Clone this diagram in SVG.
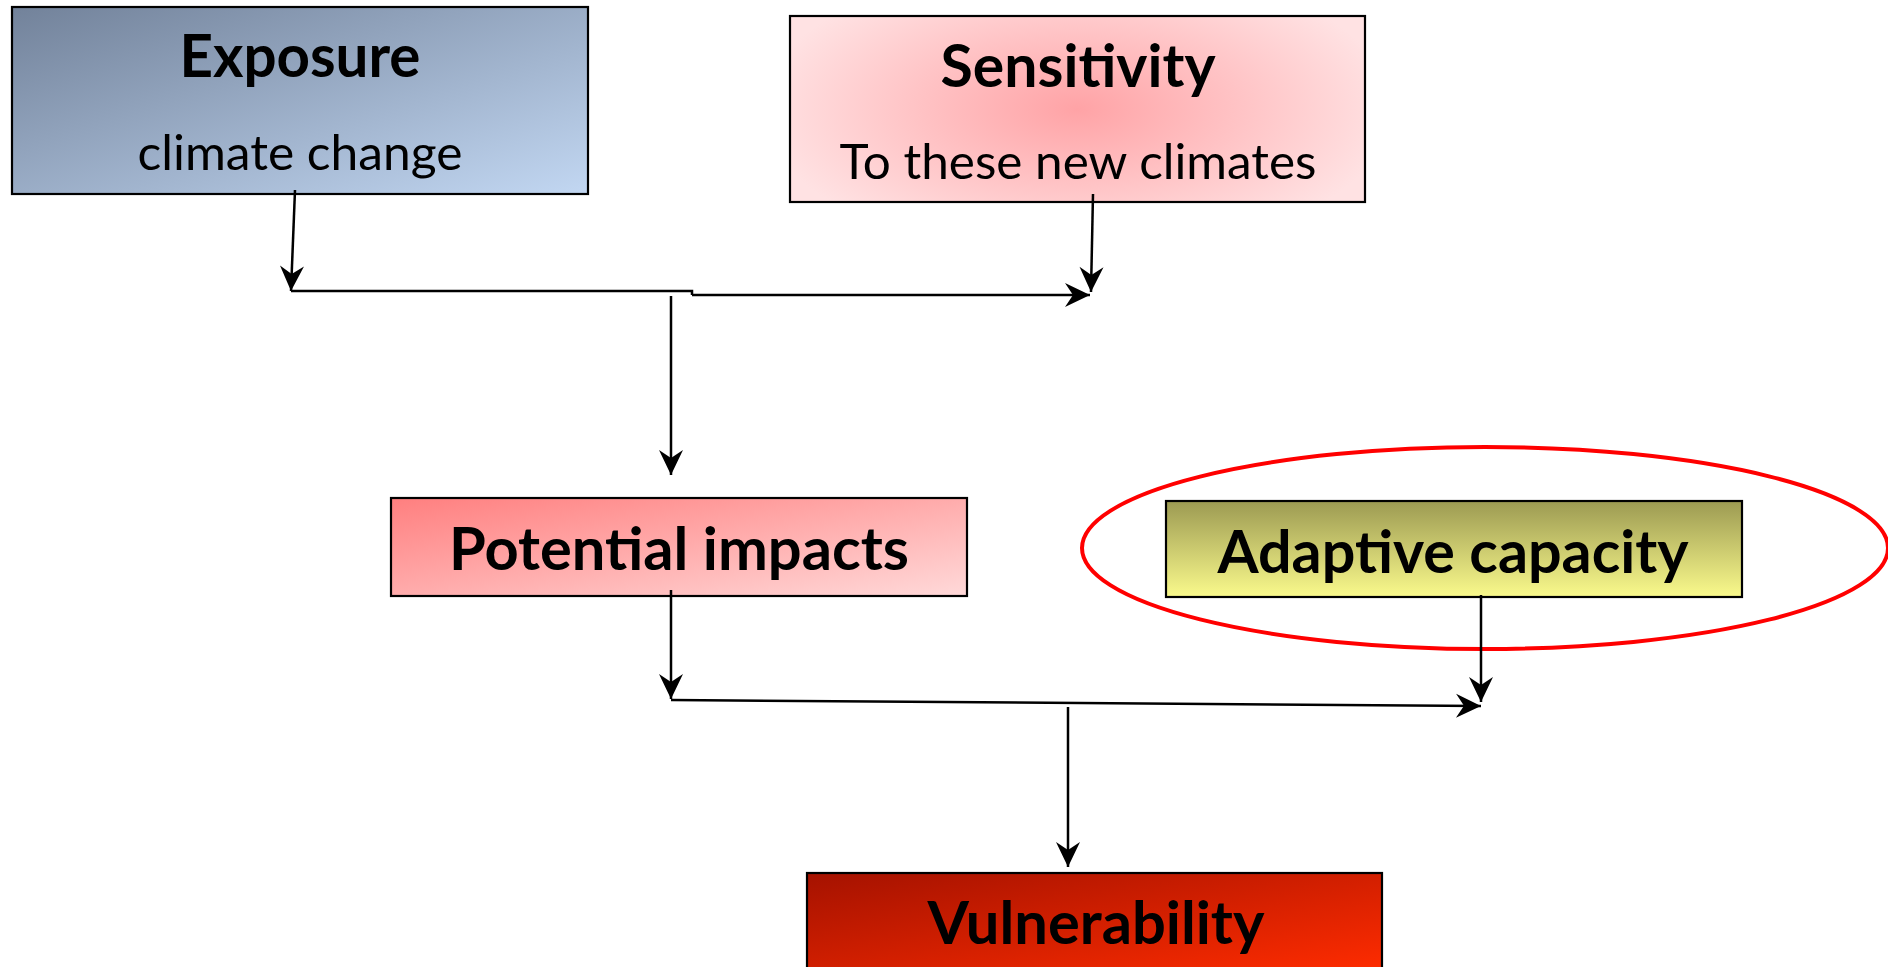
<svg xmlns="http://www.w3.org/2000/svg" width="1888" height="967" viewBox="0 0 1888 967">
<style>
.box{stroke:#000;stroke-width:2.2}
.t{font-family:Lato,"Liberation Sans",sans-serif;font-weight:bold;font-size:60px;fill:#000;text-anchor:middle}
.s{font-family:Lato,"Liberation Sans",sans-serif;font-size:49px;fill:#000;text-anchor:middle}
.c{stroke:#000;stroke-width:2.5;fill:none}
</style>
<defs>
<linearGradient id="gExp" x1="0" y1="0" x2="1" y2="1">
<stop offset="0" stop-color="#72829a"/><stop offset="1" stop-color="#c2d7f2"/>
</linearGradient>
<radialGradient id="gSen" cx="0.5" cy="0.5" r="0.5" gradientTransform="translate(0.5 0.5) scale(1.1 1.6) translate(-0.5 -0.5)">
<stop offset="0" stop-color="#ffa3a6"/><stop offset="1" stop-color="#ffe2e3"/>
</radialGradient>
<linearGradient id="gPot" x1="0" y1="0" x2="1" y2="1">
<stop offset="0" stop-color="#ff7f7f"/><stop offset="1" stop-color="#ffd9d9"/>
</linearGradient>
<linearGradient id="gAda" x1="0" y1="0" x2="0" y2="1">
<stop offset="0" stop-color="#9c9a52"/><stop offset="1" stop-color="#fafa8c"/>
</linearGradient>
<linearGradient id="gVul" x1="0" y1="0" x2="1" y2="1">
<stop offset="0" stop-color="#a51200"/><stop offset="1" stop-color="#ff2c00"/>
</linearGradient>
<marker id="arr" markerWidth="30" markerHeight="30" viewBox="-27 -14 30 28" refX="0" refY="0" orient="auto" markerUnits="userSpaceOnUse">
<path d="M0,0 L-25,-12 L-17,0 L-25,12 Z" fill="#000"/>
</marker>
</defs>

<g id="exposure">
<rect class="box" x="12" y="7" width="576" height="187" fill="url(#gExp)"/>
<text class="t" x="300" y="77" textLength="241" lengthAdjust="spacingAndGlyphs">Exposure</text>
<text class="s" x="300" y="170" textLength="325" lengthAdjust="spacingAndGlyphs">climate change</text>
</g>

<g id="sensitivity">
<rect class="box" x="790" y="16" width="575" height="186" fill="url(#gSen)"/>
<text class="t" x="1078" y="87" textLength="275" lengthAdjust="spacingAndGlyphs">Sensitivity</text>
<text class="s" x="1078" y="179" textLength="477" lengthAdjust="spacingAndGlyphs">To these new climates</text>
</g>

<g id="potential-impacts">
<rect class="box" x="391" y="498" width="576" height="98" fill="url(#gPot)"/>
<text class="t" x="679" y="570" textLength="460" lengthAdjust="spacingAndGlyphs">Potential impacts</text>
</g>

<g id="adaptive-capacity">
<ellipse cx="1485" cy="548" rx="403" ry="101" fill="none" stroke="#ff0000" stroke-width="4"/>
<rect class="box" x="1166" y="501" width="576" height="96" fill="url(#gAda)"/>
<text class="t" x="1453" y="573" textLength="471" lengthAdjust="spacingAndGlyphs">Adaptive capacity</text>
</g>

<g id="vulnerability">
<rect class="box" x="807" y="873" width="575" height="100" fill="url(#gVul)"/>
<text class="t" x="1096" y="944" textLength="337" lengthAdjust="spacingAndGlyphs">Vulnerability</text>
</g>

<g id="connectors">
<line class="c" x1="295" y1="190" x2="291" y2="291" marker-end="url(#arr)"/>
<line class="c" x1="1093" y1="194" x2="1091" y2="292" marker-end="url(#arr)"/>
<polyline class="c" points="291,291 692,291 692,295"/>
<line class="c" x1="692" y1="295" x2="1090" y2="295" marker-end="url(#arr)"/>
<line class="c" x1="671" y1="296" x2="671" y2="475" marker-end="url(#arr)"/>
<line class="c" x1="671" y1="590" x2="671" y2="699" marker-end="url(#arr)"/>
<line class="c" x1="1481" y1="595" x2="1481" y2="702" marker-end="url(#arr)"/>
<line class="c" x1="671" y1="700" x2="1481" y2="706" marker-end="url(#arr)"/>
<line class="c" x1="1068" y1="707" x2="1068" y2="867" marker-end="url(#arr)"/>
</g>
</svg>
